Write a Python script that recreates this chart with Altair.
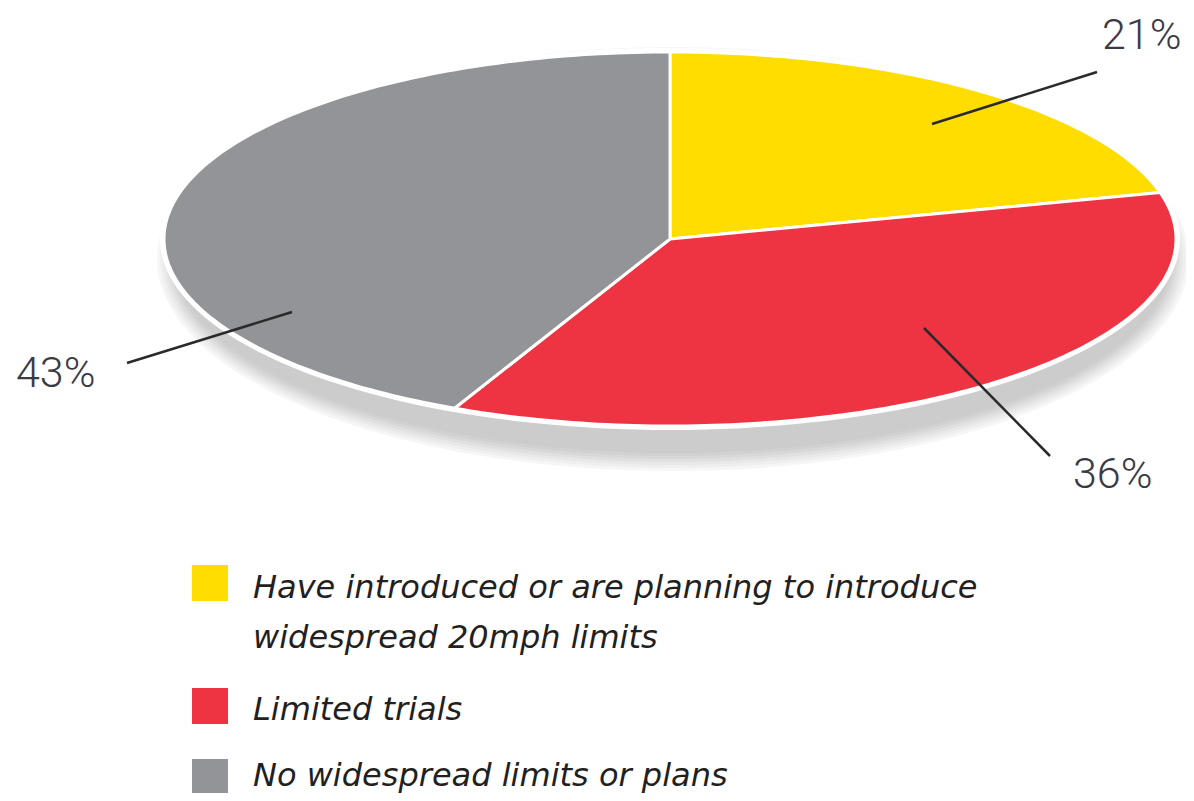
import math
import altair as alt

# ---------------- data ----------------
CATEGORIES = [
    "Have introduced or are planning to introduce\nwidespread 20mph limits",
    "Limited trials",
    "No widespread limits or plans",
]
VALUES = [21, 36, 43]
COLORS = ["#FFDD00", "#EE3342", "#939498"]
LABELS = [f"{v}%" for v in VALUES]

# ---------------- layout (plot px; page = plot + 8) ----------------
CX, CY, RX, RY = 662, 231, 506, 187
# leader line (inner point, outer point) and label anchor (left, baseline)
LEADERS = [((924, 116), (1089, 64)), ((916, 320), (1042, 448)), ((284, 304), (119, 355))]
LABEL_POS = [(1094, 41), (1065, 480), (8, 379)]
# legend: square centre y and text baseline y for each entry
LEG_SQ_X, LEG_TX_X = 202, 245
LEG_SQ_Y = [575, 698, 769]
LEG_TX_Y = [590, 712, 778]

color_scale = alt.Scale(domain=CATEGORIES, range=COLORS)


def ell(t_deg, rx=RX, ry=RY, cx=CX, cy=CY):
    t = math.radians(t_deg)
    return [cx + rx * math.sin(t), cy - ry * math.cos(t)]


def ellipse_ring(cx, cy, rx, ry):
    pts = [ell(a, rx, ry, cx, cy) for a in range(0, 360, 2)]
    pts.append(pts[0])
    return pts


# shadow + white rim
bg_features = []
shadow_cols = ["#f6f6f6", "#efefef", "#e8e8e8", "#e0e0e0", "#d8d8d8", "#d1d1d1", "#cccccc"]
n = len(shadow_cols)
for i, c in enumerate(shadow_cols):
    g = (n - 1 - i) * 3
    bg_features.append({"type": "Feature", "properties": {"fill": c},
                        "geometry": {"type": "Polygon",
                                     "coordinates": [ellipse_ring(CX + 3, CY + 20, 498 + g, 194 + g)]}})
bg_features.append({"type": "Feature", "properties": {"fill": "#ffffff"},
                    "geometry": {"type": "Polygon",
                                 "coordinates": [ellipse_ring(CX, CY, RX + 4, RY + 4)]}})

# slices
total = sum(VALUES)
slice_features = []
start = 0.0
for cat, v in zip(CATEGORIES, VALUES):
    a0 = start * 360 / total
    a1 = (start + v) * 360 / total
    steps = max(2, int((a1 - a0) / 1.0))
    ring = [[CX, CY]] + [ell(a0 + (a1 - a0) * k / steps) for k in range(steps + 1)] + [[CX, CY]]
    slice_features.append({"type": "Feature", "properties": {"cat": cat, "value": v},
                           "geometry": {"type": "Polygon", "coordinates": [ring]}})
    start += v

line_features = [{"type": "Feature", "properties": {"label": lab},
                  "geometry": {"type": "LineString", "coordinates": [list(p0), list(p1)]}}
                 for lab, (p0, p1) in zip(LABELS, LEADERS)]

label_rows = [{"label": lab, "lon": p[0], "lat": p[1]} for lab, p in zip(LABELS, LABEL_POS)]

legend_rows = [{"cat": c, "sx": LEG_SQ_X, "sy": sy, "tx": LEG_TX_X, "ty": ty}
               for c, sy, ty in zip(CATEGORIES, LEG_SQ_Y, LEG_TX_Y)]

bg = alt.Chart(alt.Data(values=bg_features)).mark_geoshape(strokeWidth=0).encode(
    color=alt.Color("properties.fill:N", scale=None)
)

slices = alt.Chart(alt.Data(values=slice_features)).mark_geoshape(
    stroke="white", strokeWidth=3, strokeJoin="round"
).encode(
    color=alt.Color("properties.cat:N", scale=color_scale, legend=None),
    tooltip=[alt.Tooltip("properties.value:Q", title="%")],
)

lines = alt.Chart(alt.Data(values=line_features)).mark_geoshape(
    filled=False, stroke="#2a2a2a", strokeWidth=2.5
)

texts = alt.Chart(alt.Data(values=label_rows)).mark_text(
    align="left", baseline="alphabetic", font="Roboto", fontWeight=300,
    fontSize=43, color="#3a3a46"
).encode(longitude="lon:Q", latitude="lat:Q", text="label:N")

leg_sq = alt.Chart(alt.Data(values=legend_rows)).mark_square(
    size=1296, opacity=1, filled=True
).encode(
    longitude="sx:Q", latitude="sy:Q",
    color=alt.Color("cat:N", scale=color_scale, legend=None),
)

leg_tx = alt.Chart(alt.Data(values=legend_rows)).mark_text(
    align="left", baseline="alphabetic", font="DejaVu Sans", fontStyle="italic",
    fontSize=32, color="#231f20", lineBreak="\n", lineHeight=50
).encode(longitude="tx:Q", latitude="ty:Q", text="cat:N")

chart = alt.layer(bg, slices, lines, texts, leg_sq, leg_tx).project(
    type="identity", scale=1, translate=[0, 0]
).properties(
    width=1178, height=785, padding=0,
    autosize=alt.AutoSizeParams(type="none"),
).configure_view(stroke=None)

chart.save("out.html", embed_options={"renderer": "svg", "actions": False})
